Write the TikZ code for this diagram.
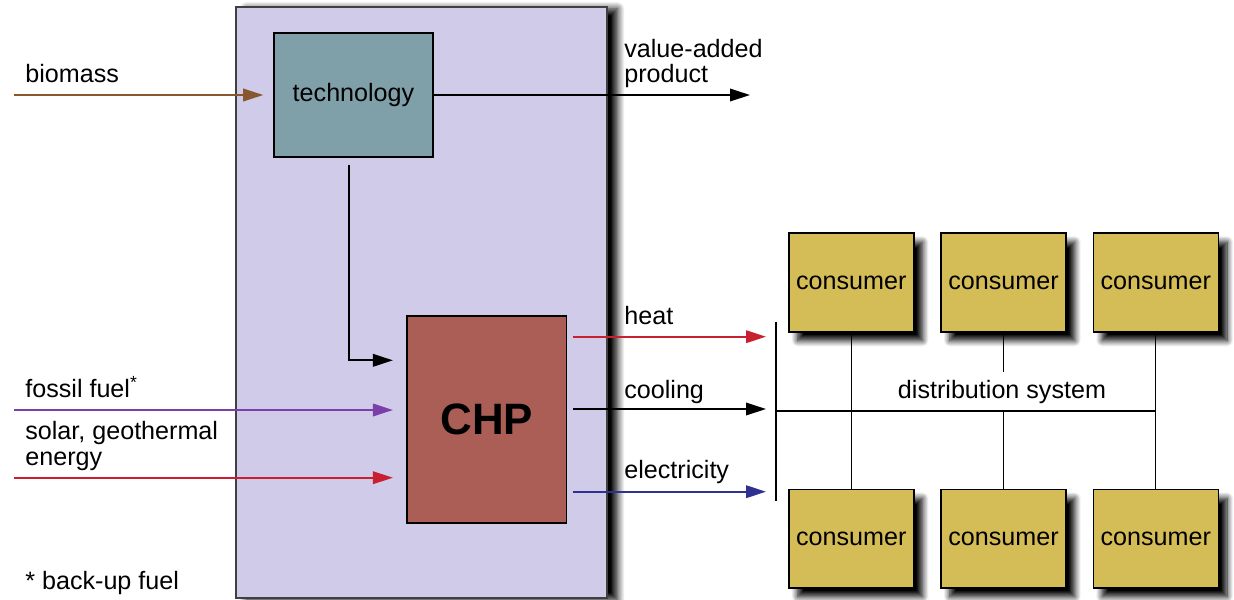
\documentclass[tikz,border=0pt]{standalone}
\usepackage{fontspec}
\setmainfont{Liberation Sans}
\usepackage{tikz}
\usetikzlibrary{arrows.meta, positioning, calc, shadows.blur}
\definecolor{PlantLilac}{HTML}{CFCBE8}
\definecolor{TechTeal}{HTML}{7F9FA9}
\definecolor{ChpRed}{HTML}{AB5E56}
\definecolor{ConsGold}{HTML}{D4BD57}
\definecolor{BioBrown}{HTML}{87572F}
\definecolor{FossilPurple}{HTML}{7A3FA8}
\definecolor{HeatRed}{HTML}{C8202F}
\definecolor{ElecBlue}{HTML}{2E3192}

\tikzset{
  flow/.style={black, line width=1.1pt, -{Triangle[length=0.4cm, width=0.25cm]}},
  unit/.style={draw, line width=0.9pt, inner sep=0pt},
  consumer/.style={unit, fill=ConsGold, minimum width=2.5cm, minimum height=1.97cm,
    blur shadow={shadow xshift=5pt, shadow yshift=-5pt, shadow blur radius=3.5pt,
      shadow blur steps=10, shadow opacity=100}},
  lbl/.style={anchor=base west, inner sep=0pt, align=left},
  grid/.style={black, line width=0.75pt}
}

\begin{document}
\begin{tikzpicture}[x=0.02cm, y=-0.02cm, font=\fontsize{14.3}{14.6}\selectfont]
        \useasboundingbox (0,0) rectangle (1234,599);

        % plant boundary
        \draw[fill=PlantLilac, draw=black!75, line width=0.9pt,
          blur shadow={shadow xshift=6pt, shadow yshift=-1pt, shadow blur radius=4pt,
            shadow blur steps=10, shadow opacity=100}]
          (236,7) rectangle (607,598);

        % units
        \node[unit, fill=TechTeal, minimum width=3.18cm, minimum height=2.48cm] (tech) at (353.5,95) {technology};
        \node[unit, fill=ChpRed, minimum width=3.2cm, minimum height=4.14cm,
          font=\fontsize{25}{28}\selectfont\bfseries] (chp) at (486.7,419.3) {CHP};

        % inputs
        \coordinate (biomass in) at (14,95);
        \coordinate (fossil in) at (14,410);
        \coordinate (solar in) at (14,477.7);
        \node[lbl] at (25,82) {biomass};
        \node[lbl] at (25,397.3) {fossil fuel\textsuperscript{*}};
        \node[lbl] at (25,465) {solar, geothermal\\energy};
        \node[lbl] at (25,589.3) {* back-up fuel};

        \draw[flow, BioBrown, shorten >=0.2cm] (biomass in) -- (tech.west);
        \draw[flow, FossilPurple, shorten >=0.26cm] (fossil in) -- (fossil in -| chp.west);
        \draw[flow, HeatRed, shorten >=0.26cm] (solar in) -- (solar in -| chp.west);
        \draw[flow, shorten >=0.26cm] ([shift={(-4.5,7)}]tech.south) |- ([yshift=1.18cm]chp.west);

        % product out
        \coordinate (product out) at (750,95);
        \draw[flow] (tech.east) -- (product out);
        \node[lbl] at (624,82.7) {value-added\\product};

        % outputs to distribution
        \coordinate (bar top) at (776,321.7);
        \coordinate (bar bottom) at (776,501);
        \draw[black, line width=1.1pt] (bar top) -- (bar bottom);
        \coordinate (heat) at ([shift={(0,-82.6)}]chp.east);
        \coordinate (cooling) at ([shift={(0,-10.3)}]chp.east);
        \coordinate (elec) at ([shift={(0,72.4)}]chp.east);
        \draw[flow, HeatRed, shorten <=0.12cm, shorten >=0.2cm] (heat) -- (heat -| bar top);
        \draw[flow, shorten <=0.12cm, shorten >=0.2cm] (cooling) -- (cooling -| bar top);
        \draw[flow, ElecBlue, shorten <=0.12cm, shorten >=0.2cm] (elec) -- (elec -| bar top);
        \node[lbl] at (624,324.3) {heat};
        \node[lbl] at (624,398) {cooling};
        \node[lbl] at (624,478) {electricity};

        % consumers
        \node[consumer] (top1) at (851.3,282.5) {consumer};
        \node[consumer] (top2) at (1003.5,282.5) {consumer};
        \node[consumer] (top3) at (1155.8,282.5) {consumer};
        \node[consumer] (bot1) at (851.3,538.7) {consumer};
        \node[consumer] (bot2) at (1003.5,538.7) {consumer};
        \node[consumer] (bot3) at (1155.8,538.7) {consumer};

        % distribution system
        \coordinate (dist) at (776,411);
        \coordinate (stub) at (1003.5,371.7);
        \draw[grid] (dist) -- (dist -| top3.south);
        \draw[grid] (top1.south) -- (bot1.north);
        \draw[grid] (top3.south) -- (bot3.north);
        \draw[grid] (top2.south) -- (stub);
        \draw[grid] (bot2.north) -- (dist -| bot2.north);
        \node[anchor=base, inner sep=0pt] (distlbl) at (1002,398) {distribution system};
    \end{tikzpicture}
\end{document}
